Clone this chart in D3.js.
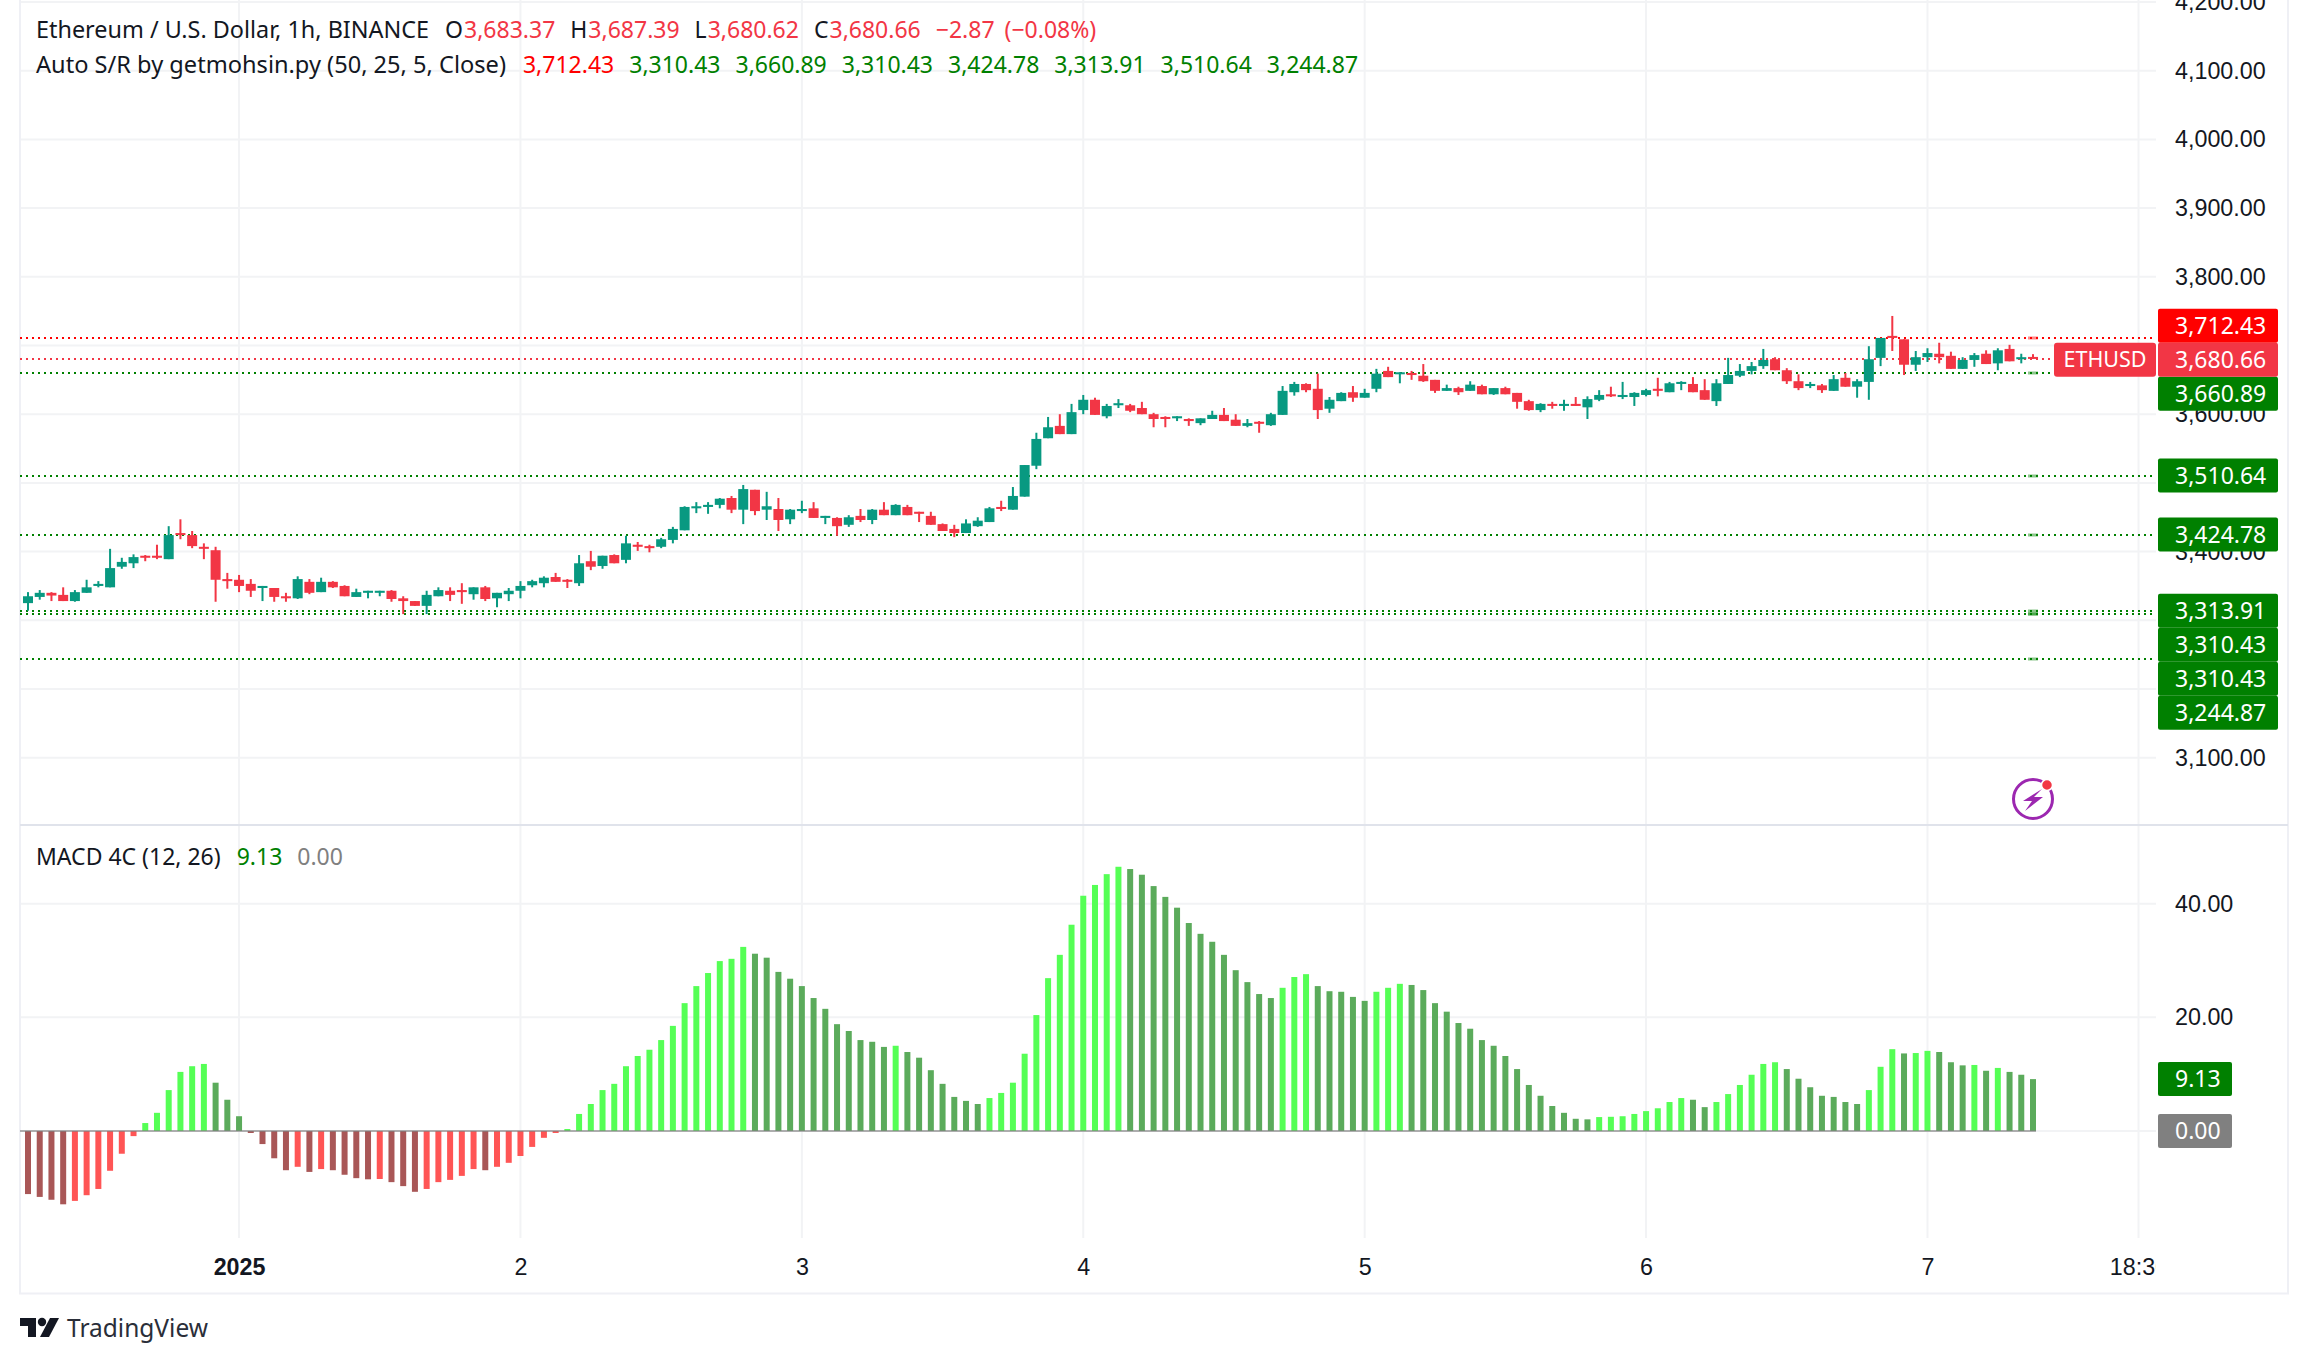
<!DOCTYPE html>
<html>
<head>
<meta charset="utf-8">
<title>ETHUSD</title>
<script src="https://cdnjs.cloudflare.com/ajax/libs/d3/7.8.5/d3.min.js"></script>
<style>
  html, body { margin: 0; background: #fff; }
  svg { display: block; }
  text { font-family: "Noto Sans", sans-serif; font-size: 23px; fill: #131722; }
</style>
</head>
<body>
<svg id="chart" width="2308" height="1364"></svg>
<script>
const opens = [
  3325,3334,3340,3337,3328,3340,3350,3348,3378,3383,
  3394,3394,3389,3427,3424,3407,3402,3360,3359,3353,
  3347,3347,3335,3332,3356,3341,3356,3350,3334,3340,
  3340,3343,3332,3328,3321,3335,3343,3344,3338,3348,
  3332,3338,3343,3351,3354,3363,3359,3354,3386,3379,
  3395,3388,3410,3408,3407,3417,3431,3463,3465,3468,
  3478,3461,3490,3461,3462,3447,3459,3463,3449,3449,
  3439,3452,3446,3461,3453,3465,3458,3452,3440,3433,
  3427,3437,3443,3465,3461,3480,3525,3565,3583,3571,
  3606,3621,3597,3613,3613,3609,3600,3596,3594,3593,
  3587,3593,3599,3592,3583,3589,3584,3599,3632,3644,
  3637,3608,3619,3632,3624,3637,3663,3659,3660,3656,
  3650,3634,3638,3634,3641,3629,3638,3631,3619,3606,
  3615,3612,3615,3610,3621,3629,3625,3625,3628,3637,
  3632,3644,3644,3635,3619,3644,3656,3663,3670,3680,
  3664,3648,3641,3642,3634,3653,3640,3647,3682,3714,
  3709,3672,3683,3688,3685,3666,3679,3688,3674,3695,
  3680,3683.37
]
const closes = [
  3335,3340,3336,3328,3341,3348,3353,3376,3385,3392,
  3391,3391,3424,3424,3408,3404,3359,3357,3350,3343,
  3350,3334,3332,3360,3340,3356,3348,3335,3341,3343,
  3343,3331,3328,3321,3337,3344,3337,3341,3348,3331,
  3340,3343,3350,3357,3362,3356,3356,3383,3378,3394,
  3383,3412,3407,3405,3418,3433,3465,3466,3468,3477,
  3461,3491,3459,3466,3446,3461,3462,3449,3452,3437,
  3450,3446,3461,3453,3468,3453,3455,3439,3430,3427,
  3441,3445,3463,3462,3481,3526,3564,3581,3571,3603,
  3621,3599,3612,3616,3605,3600,3593,3593,3597,3590,
  3594,3599,3590,3583,3587,3586,3600,3634,3644,3635,
  3606,3621,3631,3624,3631,3659,3654,3661,3657,3648,
  3634,3638,3632,3643,3629,3638,3629,3618,3606,3615,
  3612,3615,3612,3622,3628,3626,3628,3631,3635,3634,
  3645,3647,3632,3621,3645,3657,3663,3670,3679,3664,
  3648,3638,3644,3635,3651,3640,3648,3680,3711,3711,
  3672,3683,3689,3683,3666,3679,3686,3673,3693,3677,
  3683,3680.66
]
const highs = [
  3341,3344,3341,3348,3344,3359,3357,3404,3391,3396,
  3395,3410,3437,3447,3430,3412,3407,3369,3366,3360,
  3350,3347,3340,3364,3360,3362,3357,3351,3346,3343,
  3343,3344,3335,3328,3343,3348,3348,3354,3348,3350,
  3340,3347,3357,3359,3364,3369,3360,3395,3401,3394,
  3396,3423,3414,3410,3420,3436,3466,3472,3472,3478,
  3481,3497,3490,3487,3478,3462,3474,3472,3452,3450,
  3453,3462,3462,3472,3469,3468,3458,3458,3441,3439,
  3447,3450,3465,3474,3494,3526,3573,3596,3600,3615,
  3628,3624,3615,3622,3615,3618,3602,3597,3597,3594,
  3594,3605,3609,3600,3593,3590,3602,3641,3647,3645,
  3659,3625,3632,3641,3637,3666,3669,3661,3663,3673,
  3650,3643,3640,3648,3643,3638,3640,3631,3621,3616,
  3618,3621,3625,3626,3635,3640,3647,3632,3637,3653,
  3647,3648,3654,3651,3651,3682,3673,3676,3695,3683,
  3667,3658,3647,3644,3657,3660,3651,3699,3711,3743,
  3709,3692,3696,3704,3691,3683,3689,3693,3696,3701,
  3688,3687.39
]
const lows = [
  3314,3330,3328,3328,3327,3340,3348,3348,3375,3376,
  3386,3389,3389,3418,3405,3389,3327,3346,3341,3334,
  3328,3327,3327,3331,3338,3341,3347,3335,3334,3332,
  3335,3327,3309,3321,3309,3335,3328,3324,3330,3328,
  3319,3328,3332,3348,3348,3356,3347,3350,3373,3375,
  3383,3383,3401,3399,3405,3412,3431,3456,3455,3463,
  3456,3440,3453,3446,3430,3440,3456,3449,3440,3423,
  3436,3443,3440,3453,3453,3453,3443,3439,3430,3421,
  3427,3436,3443,3459,3461,3480,3520,3565,3571,3571,
  3600,3599,3594,3609,3603,3600,3581,3581,3590,3583,
  3584,3593,3590,3583,3581,3573,3583,3599,3627,3632,
  3593,3602,3619,3618,3624,3632,3654,3645,3650,3647,
  3631,3634,3628,3634,3629,3628,3629,3608,3605,3603,
  3608,3605,3612,3593,3619,3625,3622,3612,3626,3626,
  3632,3635,3632,3621,3612,3644,3654,3658,3666,3664,
  3644,3635,3638,3631,3634,3640,3624,3621,3670,3692,
  3657,3663,3676,3674,3666,3666,3669,3673,3664,3677,
  3674,3680.62
]
const macd = [
  -11.1,-11.6,-12.1,-12.9,-12.3,-11.3,-10.2,-7.0,-4.0,-0.9,
  1.4,3.2,7.2,10.4,11.4,11.8,8.5,5.5,2.6,-0.35,
  -2.3,-4.8,-6.9,-6.3,-7.2,-6.7,-6.9,-7.7,-8.3,-8.5,
  -8.45,-9.0,-9.7,-10.7,-10.2,-9.0,-8.6,-7.9,-6.7,-6.9,
  -6.3,-5.6,-4.4,-2.8,-1.2,-0.35,0.35,3.0,4.75,7.2,
  8.3,11.4,13.2,14.3,16.0,18.5,22.5,25.5,27.8,29.9,
  30.3,32.4,31.2,30.5,28.0,26.8,25.5,23.4,21.5,18.8,
  17.6,16.0,15.7,14.8,15.0,13.9,12.9,10.7,8.3,6.0,
  5.3,4.75,5.8,6.7,8.5,13.6,20.4,26.9,31.0,36.3,
  41.4,43.3,45.2,46.5,46.1,45.1,43.1,41.2,39.3,36.6,
  34.7,33.3,31.0,28.3,26.2,24.1,23.4,25.2,27.1,27.6,
  25.5,24.6,24.5,23.6,22.9,24.5,25.2,25.9,25.7,24.8,
  22.5,21.0,19.0,18.0,16.0,15.0,13.2,10.9,8.1,6.2,
  4.4,3.2,2.15,2.05,2.45,2.5,2.6,3.0,3.5,4.0,
  5.1,5.8,5.5,4.2,5.1,6.5,8.1,9.9,11.8,12.1,
  10.9,9.2,7.7,6.2,6.0,5.1,4.75,7.2,11.3,14.4,
  13.65,13.72,14.1,13.9,12.1,11.55,11.62,10.6,11.1,10.4,
  9.9,9.13
]

const srLevels = [3712.43, 3310.43, 3660.89, 3310.43, 3424.78, 3313.91, 3510.64, 3244.87]
const lastPrice = 3680.66
const priceTicks = [3100, 3200, 3300, 3400, 3500, 3600, 3700, 3800, 3900, 4000, 4100, 4200]
// 3200, 3300, 3500 and 3700 sit fully behind the price labels
const priceLabels = [3100, 3400, 3600, 3800, 3900, 4000, 4100, 4200]
const macdTicks = [0, 20, 40]
const dayTicks = [18, 42, 66, 90, 114, 138, 162, 180]
const dayLabels = ["2025", "2", "3", "4", "5", "6", "7", "18:30"]
const ohlcNames = ["O", "H", "L", "C"]
const ohlcValues = ["3,683.37", "3,687.39", "3,680.62", "3,680.66"]

const UP = "#089981", DOWN = "#f23645"
const GRID = "#f2f3f5", BORDER = "#e0e3eb"
const SR_GREEN = "#008000", SR_RED = "#ff0000"
const LEFT = 20, PLOT_RIGHT = 2156, AXIS_X = 2175, BOX_X = 2158, BOX_W = 120, BOX_H = 34
const fmt = d3.format(",.2f")

const svg = d3.select("#chart")

const x = d3.scaleLinear().domain([0, 171]).range([28, 2033])
const y = d3.scaleLinear().domain([3100, 4200]).range([757.7, 2])
const my = d3.scaleLinear().domain([0, 40]).range([1131, 903.7])
// dotted lines land on whole pixels
const lineY = d => Math.round(y(d) + 0.6)

// grid first, everything else sits on top
const grid = svg.append("g").attr("stroke", GRID).attr("stroke-width", 2)
grid.selectAll(".v").data(dayTicks).join("line")
  .attr("x1", d => x(d)).attr("x2", d => x(d)).attr("y1", 0).attr("y2", 1238)
grid.selectAll(".h").data(priceTicks).join("line")
  .attr("x1", LEFT).attr("x2", PLOT_RIGHT).attr("y1", d => y(d)).attr("y2", d => y(d))
grid.selectAll(".m").data(macdTicks).join("line")
  .attr("x1", LEFT).attr("x2", PLOT_RIGHT).attr("y1", d => my(d)).attr("y2", d => my(d))

// frame
const frame = svg.append("g").attr("stroke", BORDER).attr("stroke-width", 2).attr("fill", "none")
frame.append("path").attr("d", "M20,0V1293.5H2288V0").attr("stroke", "#eff0f5")
frame.append("line").attr("x1", LEFT).attr("x2", 2288).attr("y1", 825).attr("y2", 825)

// S/R dotted lines
svg.append("g").selectAll("line").data(srLevels).join("line")
  .attr("x1", LEFT).attr("x2", 2153)
  .attr("y1", lineY).attr("y2", lineY)
  .attr("stroke", d => d > lastPrice ? SR_RED : SR_GREEN)
  .attr("stroke-width", 2).attr("stroke-dasharray", "2 4")
svg.append("line")
  .attr("x1", LEFT).attr("x2", 2050)
  .attr("y1", lineY(lastPrice)).attr("y2", lineY(lastPrice))
  .attr("stroke", DOWN).attr("stroke-width", 2).attr("stroke-dasharray", "2 4")

// the little stubs on the last bar
svg.append("g").selectAll("rect").data(srLevels).join("rect")
  .attr("x", x(171) - 5).attr("width", 10)
  .attr("y", d => lineY(d) - 1.5).attr("height", 3)
  .attr("fill", d => d > lastPrice ? SR_RED : SR_GREEN).attr("opacity", 0.45)

// candles
const candles = svg.append("g").selectAll("g").data(opens).join("g")
  .attr("fill", (d, i) => closes[i] >= d ? UP : DOWN)
candles.append("rect")
  .attr("x", (d, i) => x(i) - 1).attr("width", 2)
  .attr("y", (d, i) => y(highs[i]))
  .attr("height", (d, i) => y(lows[i]) - y(highs[i]))
candles.append("rect")
  .attr("x", (d, i) => x(i) - 5).attr("width", 10)
  .attr("y", (d, i) => y(Math.max(d, closes[i])))
  .attr("height", (d, i) => Math.max(2, Math.abs(y(d) - y(closes[i]))))

// macd 4c histogram, colour follows sign and direction
function macdColor(v, i) {
  const prev = i > 0 ? macd[i - 1] : v
  if (v >= 0) return v > prev ? "#55ff55" : "#5bab5b"
  return v > prev ? "#ff5555" : "#a95757"
}
svg.append("g").selectAll("rect").data(macd).join("rect")
  .attr("x", (d, i) => x(i) - 3).attr("width", 6)
  .attr("y", d => Math.min(my(d), my(0)))
  .attr("height", d => Math.abs(my(d) - my(0)))
  .attr("fill", macdColor)
svg.append("line")
  .attr("x1", LEFT).attr("x2", x(171) + 3).attr("y1", my(0)).attr("y2", my(0))
  .attr("stroke", "#808080").attr("stroke-width", 2).attr("opacity", 0.6)

// axes
const priceAxis = d3.axisRight(y).tickValues(priceLabels).tickFormat(fmt).tickSize(0).tickPadding(0)
svg.append("g").attr("transform", `translate(${AXIS_X},0)`).call(priceAxis)
  .call(g => g.select(".domain").remove())
const macdAxis = d3.axisRight(my).tickValues(macdTicks.slice(1)).tickFormat(d3.format(".2f")).tickSize(0).tickPadding(0)
svg.append("g").attr("transform", `translate(${AXIS_X},0)`).call(macdAxis)
  .call(g => g.select(".domain").remove())

svg.append("clipPath").attr("id", "time-clip").append("rect")
  .attr("x", 0).attr("y", 1240).attr("width", PLOT_RIGHT).attr("height", 50)
const timeAxis = d3.axisBottom(x).tickValues(dayTicks)
  .tickFormat((d, i) => dayLabels[i]).tickSize(0).tickPadding(0)
svg.append("g").attr("clip-path", "url(#time-clip)")
  .append("g").attr("transform", "translate(0,1267)").call(timeAxis)
  .call(g => g.select(".domain").remove())
  .call(g => g.selectAll("text").attr("dy", "0.36em").attr("y", 0)
    .attr("font-weight", (d, i) => dayLabels[i] === "2025" ? 600 : 400))
svg.selectAll(".tick text").style("font-family", "inherit").style("font-size", "23.3px")
svg.selectAll(".tick text").attr("fill", "#131722")

// price labels, stacked so they do not overlap
function labelBox(cy, w, fill, text, textColor) {
  svg.append("rect").attr("x", BOX_X).attr("y", cy - BOX_H / 2)
    .attr("width", w).attr("height", BOX_H).attr("rx", 2).attr("fill", fill)
  svg.append("text").attr("x", AXIS_X).attr("y", cy).attr("dy", "0.35em")
    .style("fill", textColor || "#fff").text(text)
}
const lastY = y(lastPrice) + 1
const above = srLevels.filter(d => d > lastPrice).sort(d3.ascending)
const below = srLevels.filter(d => d < lastPrice).sort(d3.descending)
let cursor = lastY
above.forEach(d => {
  cursor = Math.min(y(d), cursor - BOX_H)
  labelBox(cursor, BOX_W, SR_RED, fmt(d))
})
cursor = lastY
below.forEach(d => {
  cursor = Math.max(y(d), cursor + BOX_H)
  labelBox(cursor, BOX_W, SR_GREEN, fmt(d))
})
labelBox(lastY, BOX_W, DOWN, fmt(lastPrice))
svg.append("rect").attr("x", 2054).attr("y", lastY - BOX_H / 2)
  .attr("width", 102).attr("height", BOX_H).attr("rx", 3).attr("fill", DOWN)
svg.append("text").attr("x", 2105).attr("y", lastY).attr("dy", "0.35em")
  .attr("text-anchor", "middle").style("font-size", "21.5px").style("fill", "#fff").text("ETHUSD")

labelBox(my(macd[171]), 74, SR_GREEN, macd[171].toFixed(2))
labelBox(my(0), 74, "#808080", "0.00")

// legend lines, laid out left to right from the measured text
function legendRow(cy, items) {
  let cur = 36
  items.forEach(it => {
    const t = svg.append("text").attr("x", cur).attr("y", cy).attr("dy", "0.35em")
      .style("font-size", (it.size || 23) + "px")
      .style("fill", it.color || "#131722").text(it.text)
    cur += t.node().getComputedTextLength() + (it.gap === undefined ? 15 : it.gap)
  })
}
const row1 = [{ text: "Ethereum / U.S. Dollar, 1h, BINANCE", gap: 16, size: 23.4 }]
ohlcNames.forEach((n, i) => {
  row1.push({ text: n, gap: 1 })
  row1.push({ text: ohlcValues[i], color: DOWN })
})
row1.push({ text: "\u22122.87", color: DOWN, gap: 10 })
row1.push({ text: "(\u22120.08%)", color: DOWN })
legendRow(30, row1)

const row2 = [{ text: "Auto S/R by getmohsin.py (50, 25, 5, Close)", gap: 17, size: 23.6 }]
srLevels.forEach(d => row2.push({ text: fmt(d), color: d > lastPrice ? SR_RED : SR_GREEN }))
legendRow(65, row2)

legendRow(857, [
  { text: "MACD 4C (12, 26)", gap: 16 },
  { text: macd[171].toFixed(2), color: SR_GREEN },
  { text: "0.00", color: "#808080" }
])

// lightning badge
const badge = svg.append("g").attr("transform", "translate(2033,799)")
badge.append("circle").attr("r", 19.5).attr("fill", "none").attr("stroke", "#9c27b0").attr("stroke-width", 3)
badge.append("path").attr("fill", "#9c27b0")
  .attr("d", "M9,-10L-10,2H-1L-8,12L10,-2H1Z")
badge.append("circle").attr("cx", 14).attr("cy", -14).attr("r", 5.5).attr("fill", DOWN)
  .attr("stroke", "#fff").attr("stroke-width", 1.5)

// TradingView mark
const logo = svg.append("g").attr("fill", "#131722")
logo.append("path").attr("d", "M20,1318H36V1337H28V1326H20Z")
logo.append("circle").attr("cx", 42).attr("cy", 1322).attr("r", 4.2)
logo.append("path").attr("d", "M50,1318H59L49,1337H40Z")
svg.append("text").attr("x", 67).attr("y", 1337).style("font-size", "24.5px").style("fill", "#2a2e39").text("TradingView")
</script>
</body>
</html>
